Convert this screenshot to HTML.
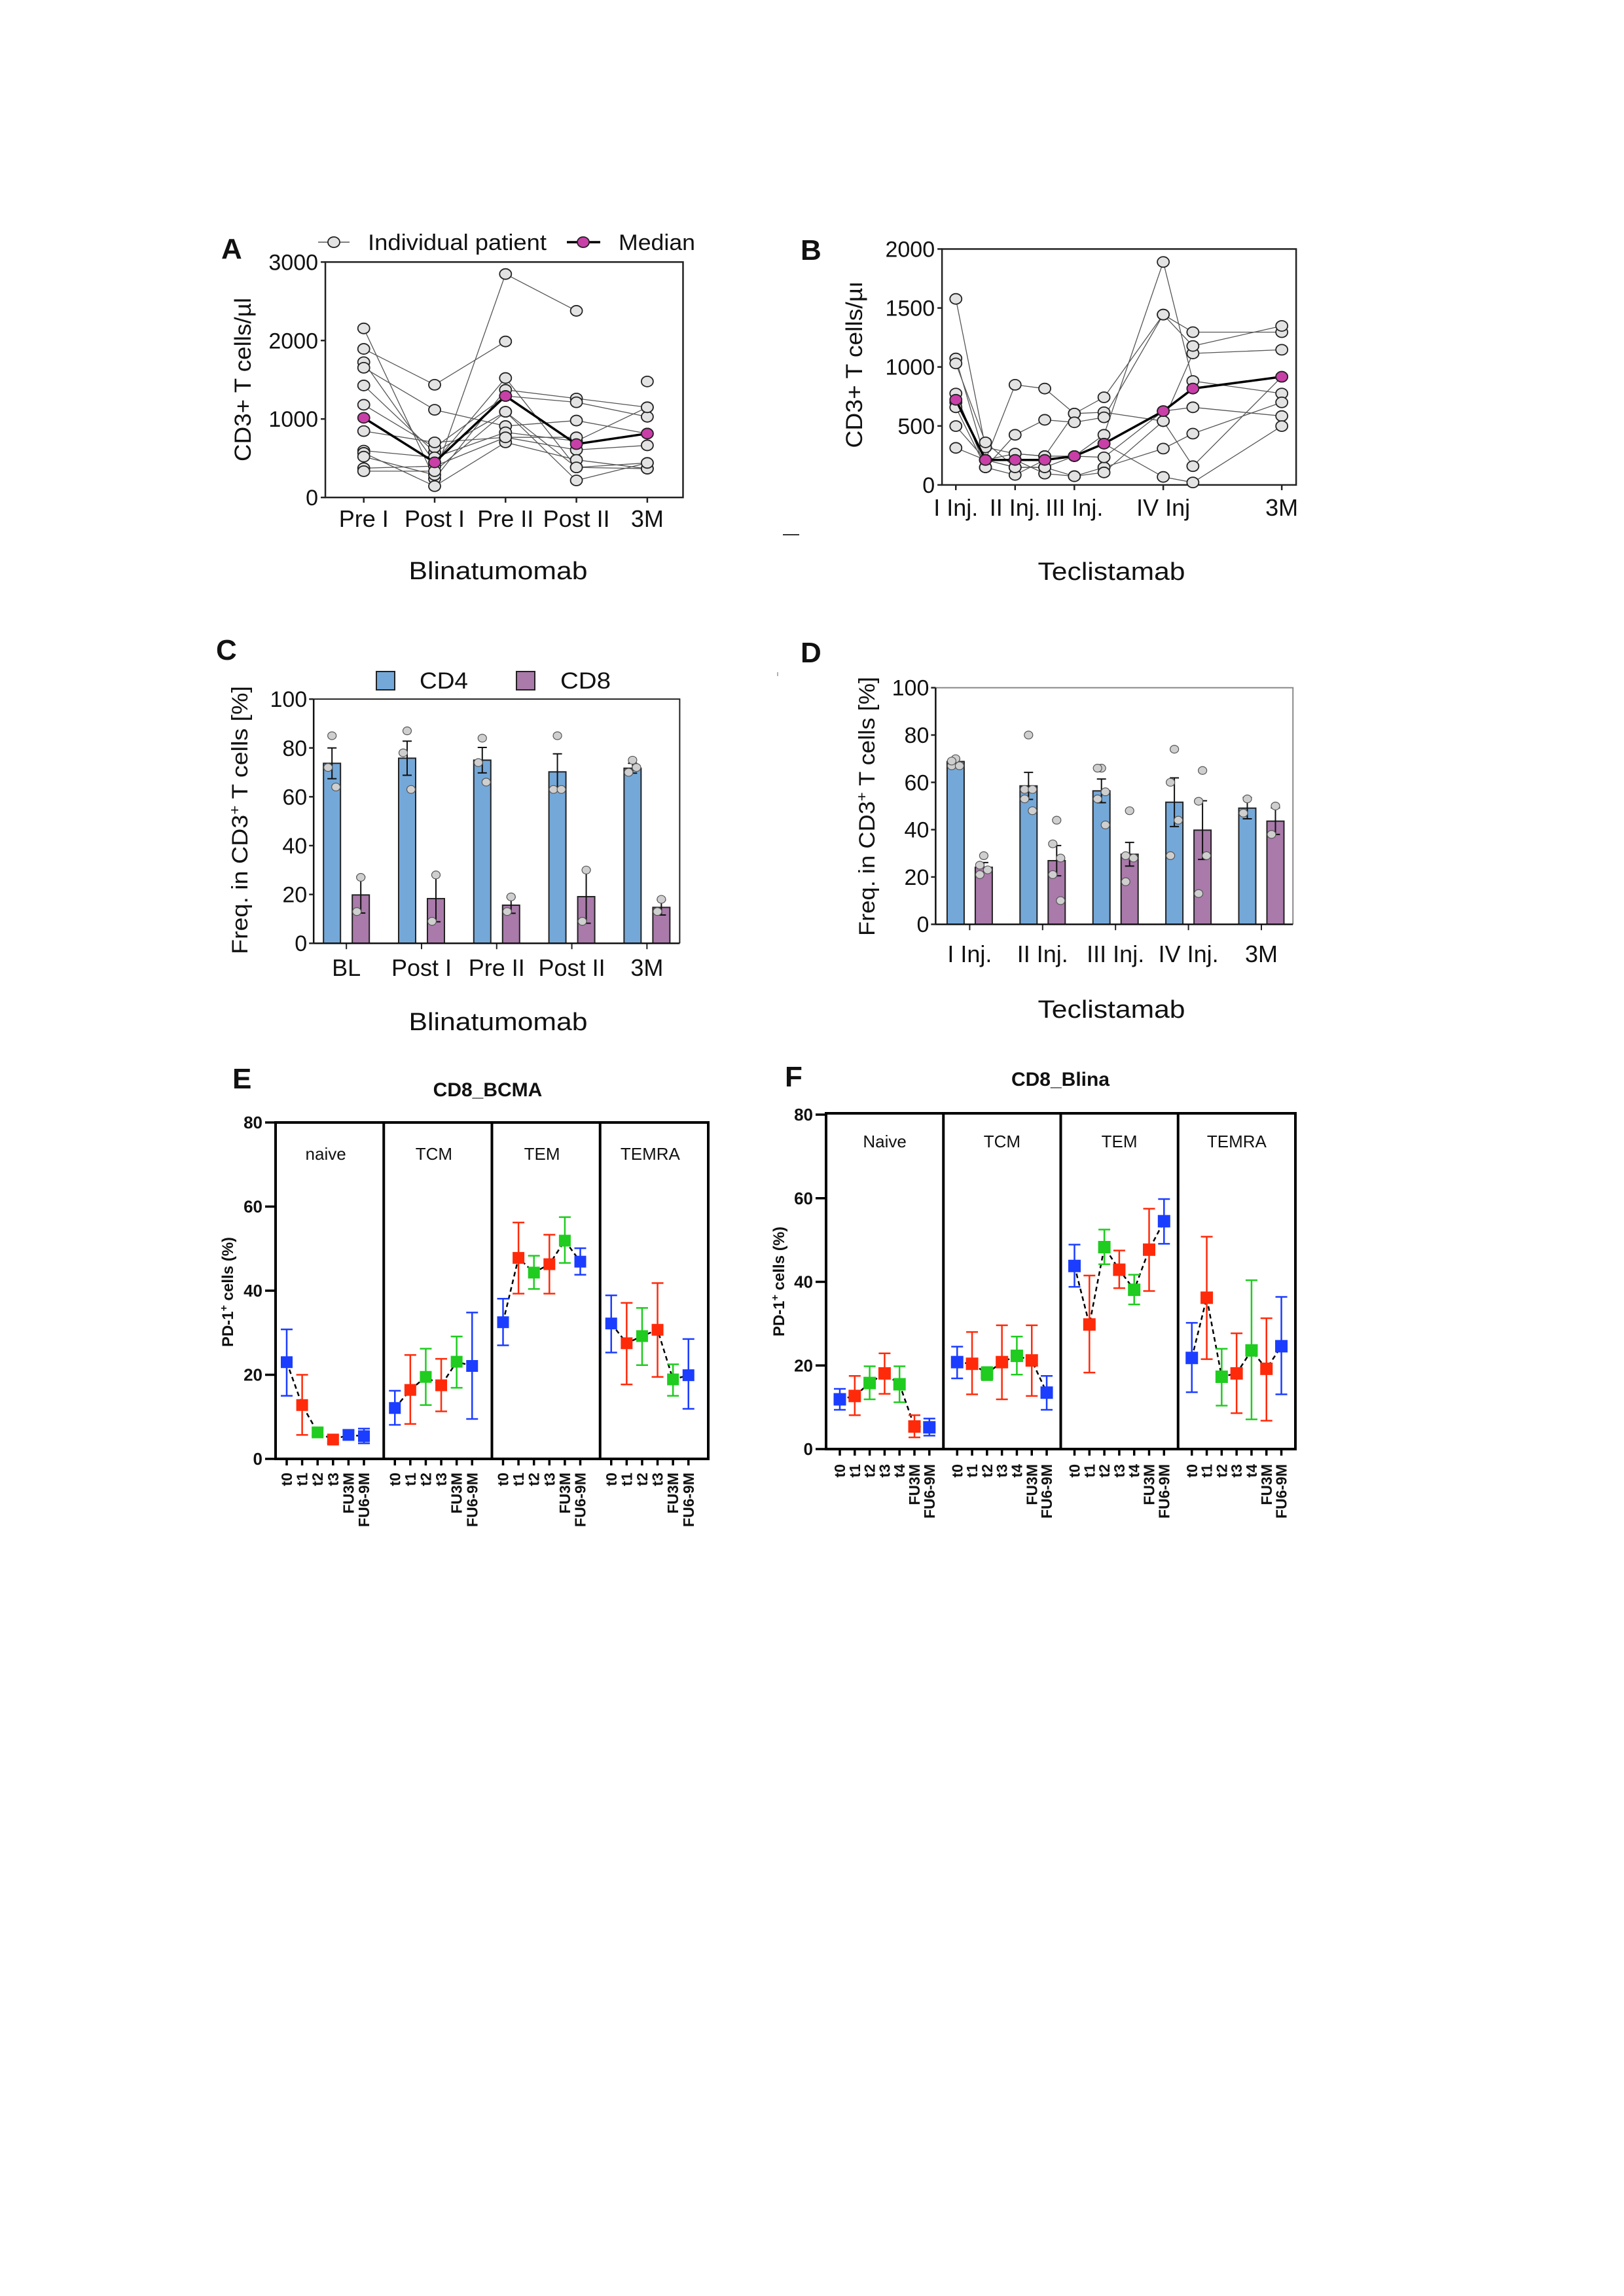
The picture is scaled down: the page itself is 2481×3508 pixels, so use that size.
<!DOCTYPE html>
<html><head><meta charset="utf-8">
<style>
html,body{margin:0;padding:0;background:#fff;}
#fig{position:absolute;left:0;top:0;width:2481px;height:3508px;}
text{font-family:"Liberation Sans",Arial,sans-serif;fill:#111;}
</style></head>
<body>
<svg id="fig" xmlns="http://www.w3.org/2000/svg" width="2481" height="3508" viewBox="0 0 2481 3508">
<rect x="0" y="0" width="2481" height="3508" fill="#fff"/>
</svg>
<script>
// ---------- Panel A data ----------
const aCats = ["Pre I","Post I","Pre II","Post II","3M"];
const aTicks = [0,1000,2000,3000];
const aPatients = [
 [2154,239,1372,1261,1149],
 [1893,1436,1988,null,1478],
 [1724,447,1522,383,367],
 [1653,1117,910,980,814],
 [1427,574,1092,217,440],
 [1181,638,1293,1213,1028],
 [846,702,766,606,664],
 [597,511,830,718,1149],
 [568,144,702,479,367],
 [520,287,2847,2378,null],
 [373,399,766,766,null],
 [335,335,1092,383,440]
];
const aMedian = [1015,447,1293,680,814];
// ---------- Panel B data ----------
const bSlots = [0,1,2,3,4,5,7,8,11];
const bLabels = ["I Inj.","","II Inj.","","III Inj.","","IV Inj","","3M"];
const bTicks = [0,500,1000,1500,2000];
const bPatients = [
 [1577,318,265,244,605,743,1444,1295,1295],
 [1072,212,849,817,605,616,541,1115,1146],
 [1030,361,149,149,244,425,1890,881,775],
 [775,149,425,552,531,573,1444,1178,1348],
 [700,212,212,96,74,149,308,435,700],
 [658,149,85,212,244,234,626,658,584],
 [499,212,265,244,244,350,68,21,499],
 [314,212,149,149,74,106,541,159,917]
];
const bMedian = [722,212,212,212,244,350,626,817,917];
// ---------- Panel C data ----------
const cCats = ["BL","Post I","Pre II","Post II","3M"];
const cCD4 = [73.7,75.8,75.0,70.2,71.7];
const cCD4sem = [6.3,7.0,5.2,7.4,2.0];
const cCD8 = [19.8,18.3,15.6,19.1,14.7];
const cCD8sem = [7.4,9.5,3.3,10.9,3.1];
const cCD4dots = [[85,72,64],[87,78,63],[84,74,66],[85,63,63],[75,70,72]];
const cCD8dots = [[27,13],[28,9],[19,13],[30,9],[18,13]];
const cTicks = [0,20,40,60,80,100];
// ---------- Panel D data ----------
const dCats = ["I Inj.","II Inj.","III Inj.","IV Inj.","3M"];
const dCD4 = [68.8,58.5,56.4,51.6,49.1];
const dCD4sem = [1.0,5.7,5.0,10.3,4.5];
const dCD8 = [24.1,26.9,29.6,39.8,43.6];
const dCD8sem = [2.0,6.4,5.0,12.4,5.6];
const dCD4dots = [[70,67,67,69],[80,57,57,53,48],[66,66,56,53,42],[74,60,44,29],[53,47]];
const dCD8dots = [[29,25,23,21],[44,34,28,21,10],[48,29,28,18],[65,52,29,13],[50,38]];
const dTicks = [0,20,40,60,80,100];
// ---------- Panel E data ----------
const eSubsets = ["naive","TCM","TEM","TEMRA"];
const eTimes = ["t0","t1","t2","t3","FU3M","FU6-9M"];
const eMean = [[23.0,12.8,6.3,4.6,5.7,5.4],[12.1,16.4,19.5,17.5,23.1,22.1],[32.5,47.8,44.3,46.3,51.9,46.9],[32.2,27.5,29.2,30.7,18.9,19.9]];
const eLow = [[15.0,5.7,5.5,3.8,4.7,3.7],[8.1,8.3,12.8,11.3,16.9,9.5],[27.0,39.3,40.4,39.3,46.6,43.8],[25.3,17.7,22.3,19.5,15.0,11.9]];
const eHigh = [[30.8,20.0,7.3,5.5,6.8,7.2],[16.2,24.7,26.2,23.8,29.1,34.8],[38.1,56.2,48.3,53.3,57.5,50.1],[38.9,37.1,35.9,41.8,22.5,28.5]];
const eCol = [[0,1,2,1,0,0],[0,1,2,1,2,0],[0,1,2,1,2,0],[0,1,2,1,2,0]];
// ---------- Panel F data ----------
const fSubsets = ["Naive","TCM","TEM","TEMRA"];
const fTimes = ["t0","t1","t2","t3","t4","FU3M","FU6-9M"];
const fMean = [[11.9,12.7,15.8,18.1,15.5,5.4,5.2],[20.8,20.4,18.1,20.8,22.3,21.2,13.5],[43.8,29.8,48.3,42.9,38.1,47.7,54.5],[21.8,36.2,17.3,18.1,23.6,19.2,24.6]];
const fLow = [[9.4,8.1,11.9,13.2,11.2,2.8,3.2],[16.9,13.1,16.5,11.9,17.8,12.7,9.4],[38.8,18.3,44.2,38.5,34.6,37.8,49.1],[13.6,21.5,10.4,8.6,7.1,6.8,13.1]];
const fHigh = [[14.4,17.5,19.8,22.9,19.8,8.1,7.3],[24.5,28.0,19.6,29.6,26.9,29.6,17.5],[48.9,41.5,52.5,47.5,41.7,57.5,59.8],[30.2,50.8,24.0,27.7,40.4,31.3,36.4]];
const fCol = [[0,1,2,1,2,1,0],[0,1,2,1,2,1,0],[0,1,2,1,2,1,0],[0,1,2,1,2,1,0]];
const yTicksPD = [0,20,40,60,80];

const NS = "http://www.w3.org/2000/svg";
const svg = document.getElementById('fig');
const PAL = ["#1b3dff","#ff2a0a","#1fcc1f"];
function mk(tag, attrs, parent){ const e=document.createElementNS(NS,tag); for(const k in attrs) e.setAttribute(k,attrs[k]); (parent||svg).appendChild(e); return e; }
function tx(x,y,s,size,extra,parent){ const t=mk('text',Object.assign({x:x,y:y,'font-size':size},extra||{}),parent); t.textContent=s; return t; }
function mapper(cx,cy,cw,ch){ return {x:z=>cx+z*cw/1568, y:z=>cy+z*ch/1568}; }

// ================= Panel A =================
(function(){
 const M = mapper(320,320,800,600);
 const g = mk('g',{});  
 const L=M.x(347), R=M.x(1418), T=M.y(210), B=M.y(1150);
 const y = v => B - v/3000*(B-T);
 const x = i => M.x(462 + i*212.25);
 const fr = mk('rect',{x:L,y:T,width:R-L,height:B-T,fill:'none',stroke:'#222','stroke-width':2.5},g);
  
 const lt = tx(338,395,'A',44,{'font-weight':'bold'},g);
  
 aTicks.forEach(v=>{
  mk('line',{x1:L-7,x2:L,y1:y(v),y2:y(v),stroke:'#222','stroke-width':2.5},g);
  const t=tx(L-11,y(v)+12,String(v),34,{'text-anchor':'end'},g);
   
 });
 aCats.forEach((c,i)=>{
  mk('line',{x1:x(i),x2:x(i),y1:B,y2:B+8,stroke:'#222','stroke-width':2.5},g);
  const t=tx(x(i),805,c,36,{'text-anchor':'middle'},g);
   
 });
 const yl=tx(0,0,'CD3+ T cells/µl',35,{'text-anchor':'middle',transform:`translate(383,580) rotate(-90)`,textLength:250,lengthAdjust:'spacingAndGlyphs'},g);
  
 const xl=tx(761,885,'Blinatumomab',38,{'text-anchor':'middle',textLength:273,lengthAdjust:'spacingAndGlyphs'},g);
  
 // patients
 aPatients.forEach(p=>{
  let d=''; let pen=false;
  p.forEach((v,i)=>{ if(v==null){pen=false;return;} d+=(pen?'L':'M')+x(i)+','+y(v); pen=true; });
  const pl=mk('path',{d:d,fill:'none',stroke:'#555','stroke-width':1.3},g);
   
 });
 aPatients.forEach(p=>p.forEach((v,i)=>{ if(v==null)return;
  const c=mk('ellipse',{cx:x(i),cy:y(v),rx:9,ry:8,fill:'#e3e3e3',stroke:'#222','stroke-width':1.8},g);
   
 }));
 let md=''; aMedian.forEach((v,i)=>{ md+=(i?'L':'M')+x(i)+','+y(v); });
 const ml=mk('path',{d:md,fill:'none',stroke:'#000','stroke-width':3.5},g);
  
 aMedian.forEach((v,i)=>{ const c=mk('ellipse',{cx:x(i),cy:y(v),rx:9,ry:8,fill:'#c93fa8',stroke:'#222','stroke-width':1.8},g);
    });
 // legend
 mk('line',{x1:486,x2:534,y1:370,y2:370,stroke:'#555','stroke-width':1.5},g);
 const lc=mk('ellipse',{cx:510,cy:370,rx:9,ry:8,fill:'#e3e3e3',stroke:'#222','stroke-width':1.8},g);
  
 const l1=tx(562,382,'Individual patient',34,{textLength:273,lengthAdjust:'spacingAndGlyphs'},g);
  
 mk('line',{x1:866,x2:917,y1:370,y2:370,stroke:'#000','stroke-width':3.5},g);
 const lc2=mk('ellipse',{cx:891,cy:370,rx:9,ry:8,fill:'#c93fa8',stroke:'#222','stroke-width':1.8},g);
  
 const l2=tx(945,382,'Median',34,{textLength:117,lengthAdjust:'spacingAndGlyphs'},g);
  
})();

// ================= Panel B =================
(function(){
 const M = mapper(1180,320,850,600);
 const g = mk('g',{});  
 const L=M.x(478), R=M.x(1476), T=M.y(158), B=M.y(1100);
 const y = v => B - v/2000*(B-T);
 const x = i => M.x(517 + bSlots[i]*83.5);
 const fr=mk('rect',{x:L,y:T,width:R-L,height:B-T,fill:'none',stroke:'#222','stroke-width':2.5},g);
  
 const lt=tx(1223,397,'B',44,{'font-weight':'bold'},g);
  
 bTicks.forEach(v=>{
  mk('line',{x1:L-7,x2:L,y1:y(v),y2:y(v),stroke:'#222','stroke-width':2.5},g);
  const t=tx(L-11,y(v)+12,String(v),34,{'text-anchor':'end'},g);
   
 });
 bLabels.forEach((c,i)=>{ if(!c) return;
  mk('line',{x1:x(i),x2:x(i),y1:B,y2:B+8,stroke:'#222','stroke-width':2.5},g);
  const t=tx(x(i),788,c,36,{'text-anchor':'middle'},g);
   
 });
 const yl=tx(0,0,'CD3+ T cells/µı',35,{'text-anchor':'middle',transform:`translate(1317,557) rotate(-90)`,textLength:255,lengthAdjust:'spacingAndGlyphs'},g);
  
 const xl=tx(1698,886,'Teclistamab',38,{'text-anchor':'middle',textLength:225,lengthAdjust:'spacingAndGlyphs'},g);
  
 const ds=mk('line',{x1:1196,x2:1221,y1:817,y2:817,stroke:'#333','stroke-width':2},g);
  
 bPatients.forEach(p=>{
  let d=''; p.forEach((v,i)=>{ d+=(i?'L':'M')+x(i)+','+y(v); });
  const pl=mk('path',{d:d,fill:'none',stroke:'#555','stroke-width':1.3},g);
   
 });
 bPatients.forEach(p=>p.forEach((v,i)=>{
  const c=mk('ellipse',{cx:x(i),cy:y(v),rx:9,ry:8,fill:'#e3e3e3',stroke:'#222','stroke-width':1.8},g);
   
 }));
 let md=''; bMedian.forEach((v,i)=>{ md+=(i?'L':'M')+x(i)+','+y(v); });
 const ml=mk('path',{d:md,fill:'none',stroke:'#000','stroke-width':3.5},g);
  
 bMedian.forEach((v,i)=>{ const c=mk('ellipse',{cx:x(i),cy:y(v),rx:9,ry:8,fill:'#c93fa8',stroke:'#222','stroke-width':1.8},g);
    });
})();

// ================= Bar panels C & D =================
function barPanel(o){
 const M=o.M;
 const g = mk('g',{});  
 const L=M.x(o.L), R=M.x(o.R), T=M.y(o.T), B=M.y(o.B);
 const y = v => B - v/100*(B-T);
 const xc = i => M.x(o.c0 + i*o.cs);
 const bw=26;
 o.cats.forEach((c,i)=>{
  [[o.cd4,o.cd4sem,o.cd4dots,-o.off,'#74a8d9','bar-cd4'],[o.cd8,o.cd8sem,o.cd8dots,o.off,'#a97aaa','bar-cd8']].forEach(s=>{
   const cx=xc(i)+s[3], v=s[0][i], e=s[1][i];
   const r=mk('rect',{x:cx-bw/2,y:y(v),width:bw,height:B-y(v),fill:s[4],stroke:'#222','stroke-width':2},g);
    
   const eb=mk('path',{d:`M${cx},${y(v-e)}L${cx},${y(v+e)}M${cx-7},${y(v+e)}L${cx+7},${y(v+e)}M${cx-7},${y(v-e)}L${cx+7},${y(v-e)}`,stroke:'#111','stroke-width':2,fill:'none'},g);
    
   s[2][i].forEach((dv,k)=>{
    const j = k===0?0:(k%2?-1:1)*6;
    const d=mk('ellipse',{cx:cx+j,cy:y(dv),rx:6.5,ry:6,fill:'#cfcfcf',stroke:'#555','stroke-width':1.2},g);
     
   });
  });
  mk('line',{x1:xc(i),x2:xc(i),y1:B,y2:B+9,stroke:'#222','stroke-width':2},g);
  const t=tx(xc(i),o.xlY,c,36,{'text-anchor':'middle'},g);
   
 });
 const fr=mk('path',{d:`M${L},${T}L${R},${T}L${R},${B}`,fill:'none',stroke:o.frameCol,'stroke-width':2},g);
  
 mk('path',{d:`M${L},${T}L${L},${B}L${R},${B}`,fill:'none',stroke:'#111','stroke-width':2.5},g);
 o.ticks.forEach(v=>{
  mk('line',{x1:L-7,x2:L,y1:y(v),y2:y(v),stroke:'#222','stroke-width':2.5},g);
  const t=tx(L-10,y(v)+12,String(v),34,{'text-anchor':'end'},g);
   
 });
 const yl=mk('text',{x:0,y:0,'font-size':34,'text-anchor':'middle',transform:`translate(${o.ylx},${o.yly}) rotate(-90)`,textLength:o.yllen,lengthAdjust:'spacingAndGlyphs'},g);
 yl.innerHTML='Freq. in CD3<tspan dy="-12" font-size="22">+</tspan><tspan dy="12"> T cells [%]</tspan>';
  
 const xl=tx(o.xtX,o.xtY,o.xt,38,{'text-anchor':'middle',textLength:o.xtLen,lengthAdjust:'spacingAndGlyphs'},g);
  
 const lt=tx(o.ltX,o.ltY,o.letter,44,{'font-weight':'bold'},g);
  
 return g;
}
const gC = barPanel({M:mapper(320,950,800,650),name:'panel-c',L:312,R:1408,T:285,B:1185,c0:410,cs:225,off:22,
 cats:cCats,cd4:cCD4,cd4sem:cCD4sem,cd8:cCD8,cd8sem:cCD8sem,cd4dots:cCD4dots,cd8dots:cCD8dots,ticks:cTicks,
 xlY:1491,ylx:378,yly:1253,yllen:410,xt:'Blinatumomab',xtX:761,xtY:1574,xtLen:273,letter:'C',ltX:330,ltY:1008,frameCol:'#222'});
const gD = barPanel({M:mapper(1180,950,850,650),name:'panel-d',L:460,R:1467,T:243,B:1115,c0:556,cs:205.5,off:21.5,
 cats:dCats,cd4:dCD4,cd4sem:dCD4sem,cd8:dCD8,cd8sem:dCD8sem,cd4dots:dCD4dots,cd8dots:dCD8dots,ticks:dTicks,
 xlY:1470,ylx:1336,yly:1232,yllen:396,xt:'Teclistamab',xtX:1698,xtY:1555,xtLen:225,letter:'D',ltX:1223,ltY:1012,frameCol:'#888'});
// legend C
(function(){
 const s1=mk('rect',{x:575,y:1026,width:28,height:28,fill:'#74a8d9',stroke:'#222','stroke-width':2},gC);
  
 const t1=tx(641,1052,'CD4',35,{textLength:74,lengthAdjust:'spacingAndGlyphs'},gC);
  
 const s2=mk('rect',{x:789,y:1026,width:28,height:28,fill:'#a97aaa',stroke:'#222','stroke-width':2},gC);
  
 const t2=tx(856,1052,'CD8',35,{textLength:77,lengthAdjust:'spacingAndGlyphs'},gC);
  
 const tick=mk('line',{x1:1188,x2:1188,y1:1027,y2:1033,stroke:'#999','stroke-width':1.5},gD);
  
})();

// ================= PD-1 panels E & F =================
function pdPanel(o){
 const g = mk('g',{});  
 const L=o.L,R=o.R,T=o.T,B=o.B,Y80=o.Y80;
 const y = v => B - v/80*(B-Y80);
 const pw=(R-L)/4;
 const px=(p,i)=> L + p*pw + o.off + i*o.step;
 o.subsets.forEach((s,p)=>{
  const t=tx(L+p*pw+pw/2+o.tdx,o.ttY,s,26,{'text-anchor':'middle'},g);
   
  if(p>0){ const dl=mk('line',{x1:L+p*pw,x2:L+p*pw,y1:T,y2:B,stroke:'#000','stroke-width':4},g);
     }
  // dashed connection
  let d=''; o.mean[p].forEach((v,i)=>{ d+=(i?'L':'M')+px(p,i)+','+y(v); });
  const dl2=mk('path',{d:d,fill:'none',stroke:'#000','stroke-width':2.5,'stroke-dasharray':'7,5'},g);
   
  o.mean[p].forEach((v,i)=>{
   const col=PAL[o.col[p][i]], cx=px(p,i);
   const eb=mk('path',{d:`M${cx},${y(o.low[p][i])}L${cx},${y(o.high[p][i])}M${cx-9},${y(o.high[p][i])}L${cx+9},${y(o.high[p][i])}M${cx-9},${y(o.low[p][i])}L${cx+9},${y(o.low[p][i])}`,stroke:col,'stroke-width':2.5,fill:'none'},g);
    
   const m=mk('rect',{x:cx-o.ms/2,y:y(v)-o.ms/2,width:o.ms,height:o.ms,fill:col},g);
    
   mk('line',{x1:cx,x2:cx,y1:B,y2:B+10,stroke:'#000','stroke-width':3.5},g);
   const lb=tx(0,0,o.times[i],23,{'font-weight':'bold','text-anchor':'end',transform:`translate(${cx+8},${o.lblTop}) rotate(-90)`},g);
    
  });
 });
 const fr=mk('rect',{x:L,y:T,width:R-L,height:B-T,fill:'none',stroke:'#000','stroke-width':4},g);
  
 yTicksPD.forEach(v=>{
  mk('line',{x1:L-16,x2:L,y1:y(v),y2:y(v),stroke:'#000','stroke-width':3.5},g);
  const t=tx(L-20,y(v)+9,String(v),26,{'text-anchor':'end','font-weight':'bold'},g);
   
 });
 const yl=mk('text',{x:0,y:0,'font-size':24,'font-weight':'bold','text-anchor':'middle',transform:`translate(${o.ylx},${o.yly}) rotate(-90)`},g);
 yl.innerHTML='PD-1<tspan dy="-9" font-size="16">+</tspan><tspan dy="9"> cells (%)</tspan>';
  
 const tt=tx(o.titleX,o.titleY,o.title,30,{'font-weight':'bold','text-anchor':'middle'},g);
  
 const lt=tx(o.ltX,o.ltY,o.letter,44,{'font-weight':'bold'},g);
  
}
pdPanel({name:'panel-e',L:421,R:1082,T:1715,B:2229,Y80:1715,off:17,step:23.6,ms:18,tdx:-6,ttY:1772,lblTop:2250,
 subsets:eSubsets,times:eTimes,mean:eMean,low:eLow,high:eHigh,col:eCol,
 ylx:356,yly:1974,title:'CD8_BCMA',titleX:745,titleY:1675,letter:'E',ltX:355,ltY:1663});
pdPanel({name:'panel-f',L:1262,R:1979,T:1701,B:2214,Y80:1703,off:21,step:22.8,ms:19,tdx:0,ttY:1753,lblTop:2237,
 subsets:fSubsets,times:fTimes,mean:fMean,low:fLow,high:fHigh,col:fCol,
 ylx:1198,yly:1958,title:'CD8_Blina',titleX:1620,titleY:1659,letter:'F',ltX:1199,ltY:1660});
</script>
</body></html>
